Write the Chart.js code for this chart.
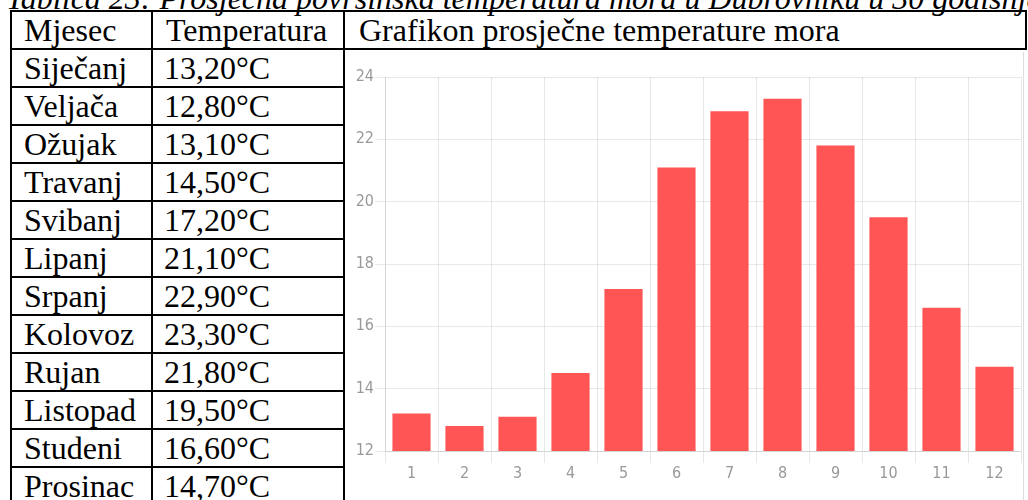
<!DOCTYPE html>
<html>
<head>
<meta charset="utf-8">
<script src="https://cdn.jsdelivr.net/npm/chart.js@4.3.2/dist/chart.umd.min.js"></script>
<style>
	body { margin: 0; background: #fff; width: 1028px; height: 500px; overflow: hidden; position: relative; }
	.line { position: absolute; background: #000; }
	.txt { position: absolute; font-family: 'Liberation Serif', 'Times New Roman', serif; font-size: 32px; line-height: 38px; height: 38px; white-space: nowrap; color: #000; }
	#caption { font-style: italic; }
	#chartBox { position: absolute; left: 346px; top: 52px; width: 677px; height: 448px; background: #fff; }
	#edge { position: absolute; left: 1023px; top: 52px; width: 1px; height: 448px; background: #ddd; }
</style>
</head>
<body>
<div id="page"></div>
<div id="chartBox"><canvas id="chart" width="677" height="448"></canvas></div>
<div id="edge"></div>
<script>
const months = ['Siječanj', 'Veljača', 'Ožujak', 'Travanj', 'Svibanj', 'Lipanj',
	'Srpanj', 'Kolovoz', 'Rujan', 'Listopad', 'Studeni', 'Prosinac'];
const temperatures = [13.2, 12.8, 13.1, 14.5, 17.2, 21.1, 22.9, 23.3, 21.8, 19.5, 16.6, 14.7];
const monthNumbers = ['1', '2', '3', '4', '5', '6', '7', '8', '9', '10', '11', '12'];
const headers = ['Mjesec', 'Temperatura', 'Grafikon prosječne temperature mora'];
const captionText = 'Tablica 23: Prosječna površinska temperatura mora u Dubrovniku u 30 godišnjem razdoblju';
const yMin = 12, yMax = 24, yStep = 2;

const page = document.getElementById('page');

function addLine(x, y, w, h) {
	const d = document.createElement('div');
	d.className = 'line';
	d.style.left = x + 'px';
	d.style.top = y + 'px';
	d.style.width = w + 'px';
	d.style.height = h + 'px';
	page.appendChild(d);
}

function addText(text, x, y, id) {
	const d = document.createElement('div');
	d.className = 'txt';
	if (id) d.id = id;
	d.style.left = x + 'px';
	d.style.top = y + 'px';
	d.textContent = text;
	page.appendChild(d);
}

// table grid
const colX = [11, 152, 344, 1026];
const headTop = 11, rowTop = 49, rowH = 38;

addText(captionText, 6, -21, 'caption');

addLine(10, headTop - 1, 1017, 2);
addLine(10, rowTop - 1, 1017, 2);
for (let i = 1; i <= months.length; i++) {
	addLine(10, rowTop + i * rowH - 1, 335, 2);
}
addLine(colX[0] - 1, headTop - 1, 2, 500);
addLine(colX[1] - 1, headTop - 1, 2, 500);
addLine(colX[2] - 1, headTop - 1, 2, 500);
addLine(colX[3] - 1, headTop - 1, 2, rowTop - headTop + 2);

addText(headers[0], 24, headTop);
addText(headers[1], 166, headTop);
addText(headers[2], 359, headTop);

months.forEach((m, i) => {
	addText(m, 24, rowTop + i * rowH);
	addText(temperatures[i].toFixed(2).replace('.', ',') + '°C', 164, rowTop + i * rowH);
});

// chart
const tickFont = {family: "'Liberation Sans Narrow', 'DejaVu Sans Condensed', sans-serif", size: 16};
const gridColor = 'rgba(0,0,0,0.09)';

new Chart(document.getElementById('chart'), {
	type: 'bar',
	data: {
		labels: monthNumbers,
		datasets: [{
			data: temperatures,
			backgroundColor: '#ff5555',
			borderWidth: 0
		}]
	},
	options: {
		responsive: false,
		animation: false,
		layout: {padding: {top: 25, right: 2, bottom: 17, left: 0}},
		plugins: {legend: {display: false}, tooltip: {enabled: false}},
		scales: {
			x: {
				grid: {color: gridColor, tickLength: 12},
				border: {color: gridColor},
				ticks: {color: '#999', font: tickFont, padding: 1},
				afterFit: scale => { scale.height = 32; }
			},
			y: {
				min: yMin,
				max: yMax,
				grid: {color: gridColor, tickLength: 10},
				border: {color: gridColor},
				ticks: {stepSize: yStep, color: '#999', font: tickFont, padding: 1},
				afterFit: scale => { scale.width = 39; }
			}
		}
	}
});
</script>
</body>
</html>
